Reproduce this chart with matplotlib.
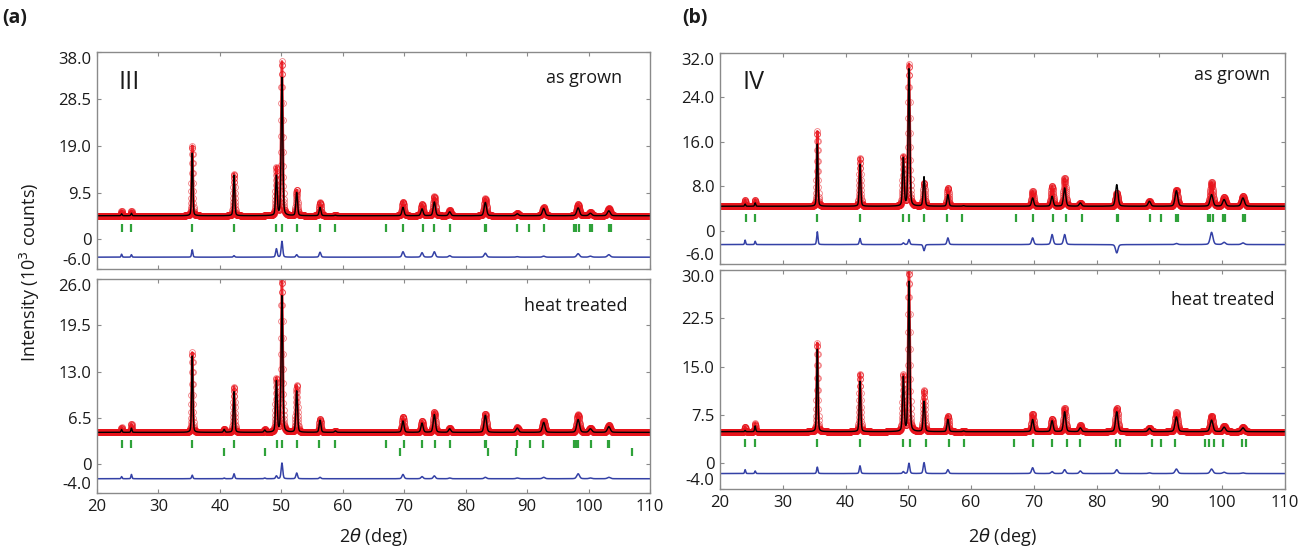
import numpy as np
import matplotlib
matplotlib.use("Agg")
import matplotlib.pyplot as plt

plt.rcParams['font.family'] = ['Open Sans', 'DejaVu Sans']
plt.rcParams['mathtext.fontset'] = 'dejavusans'

# peak positions (2theta, deg) shared by all four patterns
peak_pos = [24.0, 25.6, 35.5, 40.7, 42.3, 47.3, 49.2, 50.1, 52.5, 56.3, 58.8,
            69.8, 72.9, 74.9, 77.4, 83.2, 88.4, 92.7, 98.3, 100.3, 103.3]

# (a) III as grown
obs_a1 = [5.8, 5.8, 19.0, 4.8, 13.3, 4.8, 14.5, 36.0, 10.0, 7.5, 4.9,
          7.6, 7.1, 8.7, 5.9, 8.3, 5.3, 6.5, 7.1, 5.5, 6.3]
calc_a1 = [5.2, 5.3, 17.5, 4.8, 13.0, 4.8, 12.8, 32.8, 9.5, 6.5, 4.9,
           6.5, 6.2, 7.6, 5.6, 7.5, 5.2, 6.3, 6.4, 5.3, 5.8]
bkg_a1 = 4.8
diff_a1 = -3.6
bragg_a1 = [[24.0, 25.6, 35.5, 42.3, 49.2, 50.1, 52.5, 56.3, 58.8, 67.0, 69.8, 73.0,
             74.9, 77.5, 83.1, 83.3, 88.4, 90.3, 92.7, 97.6, 97.9, 98.4, 100.2, 100.6,
             103.3, 103.6]]
bragg_y_a1 = [2.3]

# (a) III heat treated
obs_a2 = [5.2, 5.7, 15.7, 5.0, 10.9, 4.9, 12.0, 25.8, 11.1, 6.4, 4.7,
          6.7, 6.1, 7.4, 5.1, 7.1, 5.2, 6.1, 7.0, 5.1, 5.5]
calc_a2 = [4.9, 5.1, 15.2, 4.9, 10.2, 4.8, 11.6, 23.6, 10.3, 6.2, 4.7,
           6.1, 5.8, 7.0, 5.0, 6.9, 5.1, 5.9, 6.3, 5.0, 5.3]
bkg_a2 = 4.5
diff_a2 = -2.0
bragg_a2 = [[24.0, 25.6, 35.5, 42.3, 49.3, 50.1, 52.5, 56.2, 58.8, 67.0, 69.9, 72.9,
             75.0, 77.4, 83.1, 83.3, 88.4, 90.4, 92.6, 97.6, 97.9, 98.3, 100.4,
             103.2, 103.4],
            [40.7, 47.3, 69.3, 83.6, 88.2, 107.0]]
bragg_y_a2 = [2.8, 1.8]

# (b) IV as grown
obs_b1 = [5.6, 5.6, 17.9, 4.4, 13.1, 4.4, 13.3, 30.0, 8.6, 7.7, 4.5,
          7.1, 8.0, 9.5, 5.0, 6.8, 5.3, 7.4, 8.7, 6.0, 6.2]
calc_b1 = [4.8, 5.0, 15.6, 4.4, 12.0, 4.4, 13.0, 29.1, 9.7, 6.5, 4.5,
           5.9, 6.2, 7.7, 5.0, 8.3, 5.3, 7.2, 6.5, 5.6, 5.9]
bkg_b1 = 4.4
diff_b1 = -2.5
bragg_b1 = [[24.1, 25.6, 35.5, 42.3, 49.2, 50.1, 52.5, 56.2, 58.6, 67.1, 69.8, 73.0,
             75.1, 77.6, 83.2, 83.4, 88.5, 90.2, 92.6, 92.9, 97.7, 98.1, 98.5,
             100.1, 100.5, 103.3, 103.7]]
bragg_y_b1 = [2.3]

# (b) IV heat treated
obs_b2 = [5.7, 6.2, 18.7, 4.9, 13.9, 4.9, 13.6, 29.8, 11.3, 7.4, 5.0,
          7.7, 6.9, 8.6, 5.9, 8.6, 5.5, 7.9, 7.4, 5.8, 5.6]
calc_b2 = [5.1, 5.8, 17.7, 4.9, 12.7, 4.9, 13.3, 28.2, 9.6, 6.8, 5.0,
           6.8, 6.6, 8.0, 5.5, 8.0, 5.4, 7.2, 6.7, 5.6, 5.5]
bkg_b2 = 4.9
diff_b2 = -1.6
bragg_b2 = [[24.0, 25.6, 35.5, 42.3, 49.2, 50.2, 52.8, 56.4, 58.9, 66.9, 69.9, 72.9,
             75.2, 77.4, 83.1, 83.7, 88.8, 90.3, 92.4, 97.3, 97.9, 98.7, 100.2,
             103.2, 103.8]]
bragg_y_b2 = [3.1]

yticks_a1 = [-6.0, 0, 9.5, 19.0, 28.5, 38.0]
ylabels_a1 = ['-6.0', '0', '9.5', '19.0', '28.5', '38.0']
yticks_a2 = [-4.0, 0, 6.5, 13.0, 19.5, 26.0]
ylabels_a2 = ['-4.0', '0', '6.5', '13.0', '19.5', '26.0']
yticks_b1 = [-6.0, 0, 8.0, 16.0, 24.0, 32.0]
ylabels_b1 = ['-6.0', '0', '8.0', '16.0', '24.0', '32.0']
yticks_b2 = [-4.0, 0, 7.5, 15.0, 22.5, 30.0]
ylabels_b2 = ['-4.0', '0', '7.5', '15.0', '22.5', '30.0']
xticks = [20, 30, 40, 50, 60, 70, 80, 90, 100, 110]

RED = '#e8131b'
BLUE = '#3441a6'
GREEN = '#2fa23a'
GREY = '#8a8a8a'
INK = '#1a1a1a'

tt = np.arange(20.0, 110.0001, 0.025)


def profile(heights, bkg):
    # pseudo-Voigt peaks on a flat background, tops
    y = np.full_like(tt, bkg)
    for p, h in zip(peak_pos, heights):
        fwhm = 0.17 + 0.0045 * (p - 20)
        d = (tt - p) / (fwhm / 2)
        g = np.exp(-np.log(2) * d ** 2)
        lor = 1 / (1 + d ** 2)
        y += (h - bkg) * (0.7 * g + 0.3 * lor)
    return y


W, H = 1310, 552
fig = plt.figure(figsize=(W / 100, H / 100), dpi=100)


def px_axes(x0, y0, x1, y1):
    return fig.add_axes([x0 / W, 1 - y1 / H, (x1 - x0) / W, (y1 - y0) / H])


def panel(ax, obs, calc, bkg, doff, bragg, bragg_y, yt, yl, ylim, show_x):
    yo = profile(obs, bkg)
    yc = profile(calc, bkg)
    ax.plot(tt, yo, color=RED, lw=1.8, alpha=0.9)
    ax.plot(tt, yo, ls='none', marker='o', ms=4.2, mfc='none', mec=RED, mew=0.6, alpha=0.55)
    ax.plot(tt, yc, color='black', lw=1.0)
    ax.plot(tt, yo - yc + doff, color=BLUE, lw=1.1)
    for row, yb in zip(bragg, bragg_y):
        ax.plot(row, [yb] * len(row), ls='none', marker='|', ms=6, mew=1.6, color=GREEN)
    ax.set_xlim(20, 110)
    ax.set_ylim(*ylim)
    ax.set_yticks(yt)
    ax.set_yticklabels(yl)
    ax.set_xticks(xticks)
    if not show_x:
        ax.set_xticklabels([])
    ax.tick_params(direction='in', top=True, right=True, length=3, width=0.8,
                   color=GREY, labelsize=12, labelcolor=INK, pad=4)
    lbls = ax.get_yticklabels()
    lbls[0].set_va('bottom')
    lbls[-1].set_va('top')
    for s in ax.spines.values():
        s.set_color(GREY)
        s.set_linewidth(1.0)


ax1 = px_axes(97, 52, 650, 269)
panel(ax1, obs_a1, calc_a1, bkg_a1, diff_a1, bragg_a1, bragg_y_a1,
      yticks_a1, ylabels_a1, (-6, 38), False)
ax2 = px_axes(97, 279, 650, 493)
panel(ax2, obs_a2, calc_a2, bkg_a2, diff_a2, bragg_a2, bragg_y_a2,
      yticks_a2, ylabels_a2, (-4, 26), True)
ax3 = px_axes(720, 53, 1285, 264)
panel(ax3, obs_b1, calc_b1, bkg_b1, diff_b1, bragg_b1, bragg_y_b1,
      yticks_b1, ylabels_b1, (-6, 32), False)
ax4 = px_axes(720, 270, 1285, 489)
panel(ax4, obs_b2, calc_b2, bkg_b2, diff_b2, bragg_b2, bragg_y_b2,
      yticks_b2, ylabels_b2, (-4, 30), True)

ax1.text(0.038, 0.86, 'III', transform=ax1.transAxes, fontsize=18, va='center', color=INK)
ax3.text(0.039, 0.86, 'IV', transform=ax3.transAxes, fontsize=18, va='center', color=INK)
ax1.text(0.95, 0.88, 'as grown', transform=ax1.transAxes, fontsize=13, ha='right', va='center', color=INK)
ax3.text(0.973, 0.895, 'as grown', transform=ax3.transAxes, fontsize=13, ha='right', va='center', color=INK)
ax2.text(0.96, 0.874, 'heat treated', transform=ax2.transAxes, fontsize=13, ha='right', va='center', color=INK)
ax4.text(0.982, 0.863, 'heat treated', transform=ax4.transAxes, fontsize=13, ha='right', va='center', color=INK)

fig.text(2 / W, 1 - 18 / H, '(a)', fontsize=14, fontweight='bold', va='center', color=INK)
fig.text(682 / W, 1 - 18 / H, '(b)', fontsize=14, fontweight='bold', va='center', color=INK)
fig.text(30 / W, 1 - 272 / H, 'Intensity (10$^3$ counts)', rotation=90, fontsize=13,
         ha='center', va='center', color=INK)
fig.text(373 / W, 1 - 537 / H, r'2$\theta$ (deg)', fontsize=13, ha='center', va='center', color=INK)
fig.text(1002 / W, 1 - 537 / H, r'2$\theta$ (deg)', fontsize=13, ha='center', va='center', color=INK)

fig.savefig('out.png', dpi=100)
